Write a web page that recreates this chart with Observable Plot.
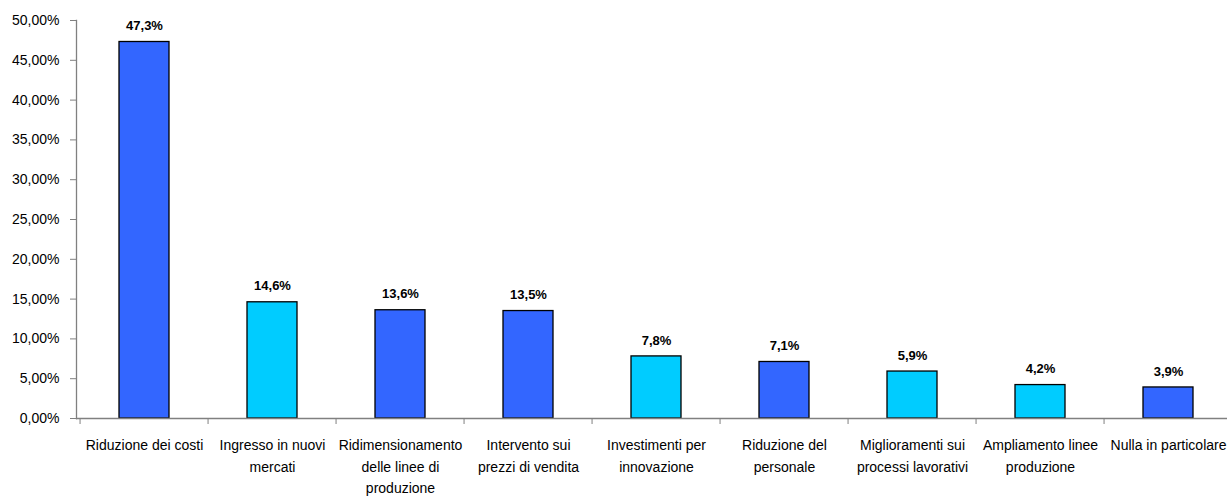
<!DOCTYPE html>
<html>
<head>
<meta charset="utf-8">
<script src="https://cdn.jsdelivr.net/npm/d3@7"></script>
<script src="https://cdn.jsdelivr.net/npm/@observablehq/plot@0.6"></script>
<style>
  html, body { margin: 0; padding: 0; background: #fff; overflow: hidden; }
</style>
</head>
<body>
<div id="chart"></div>
<script>
const categories = [
  "Riduzione dei costi",
  "Ingresso in nuovi\nmercati",
  "Ridimensionamento\ndelle linee di\nproduzione",
  "Intervento sui\nprezzi di vendita",
  "Investimenti per\ninnovazione",
  "Riduzione del\npersonale",
  "Miglioramenti sui\nprocessi lavorativi",
  "Ampliamento linee\nproduzione",
  "Nulla in particolare"
];
const values = [47.3, 14.6, 13.6, 13.5, 7.8, 7.1, 5.9, 4.2, 3.9];
const groups = ["A", "B", "A", "A", "B", "A", "B", "B", "A"];
const yTicks = [0, 5, 10, 15, 20, 25, 30, 35, 40, 45, 50];

const data = categories.map((c, i) => ({cat: c, value: values[i], group: groups[i]}));

const W = 1240, H = 496, ML = 76, MR = 4, MT = 20, MB = 78;
const band = (W - ML - MR) / categories.length;
const axisGray = "#808080";
const comma = (v, d) => v.toFixed(d).replace(".", ",");

const chart = Plot.plot({
  width: W,
  height: H,
  marginLeft: ML,
  marginRight: MR,
  marginTop: MT,
  marginBottom: MB,
  style: {fontFamily: "'Liberation Sans', Arial, sans-serif",
    fontSize: "14px", maxWidth: "none", background: "#fff"},
  x: {type: "band", domain: categories, padding: 0, label: null},
  y: {domain: [0, 50], label: null},
  color: {domain: ["A", "B"], range: ["#3366FF", "#00CCFF"]},
  marks: [
    Plot.barY(data, {x: "cat", y: "value", fill: "group", stroke: "black", strokeWidth: 1.3,
      insetLeft: 39, insetRight: 39}),
    Plot.frame({anchor: "left", stroke: axisGray, strokeWidth: 1.3}),
    Plot.ruleY([0], {stroke: axisGray, strokeWidth: 1.3}),
    Plot.axisY({ticks: yTicks, tickFormat: d => comma(d, 2) + "%", tickSize: 6, tickPadding: 11,
      stroke: axisGray, fill: "black", label: null}),
    Plot.axisX({tickSize: 6, dx: -band / 2, tickFormat: () => "", stroke: axisGray, label: null}),
    Plot.axisX({tickSize: 0, tickPadding: 16, lineAnchor: "top", lineHeight: 1.55,
      fill: "black", label: null}),
    Plot.text(data, {x: "cat", y: "value", text: d => comma(d.value, 1) + "%", dy: -16,
      fontWeight: "bold", fontSize: 13, letterSpacing: "0.4px", fill: "black"})
  ]
});
document.getElementById("chart").append(chart);
</script>
</body>
</html>
